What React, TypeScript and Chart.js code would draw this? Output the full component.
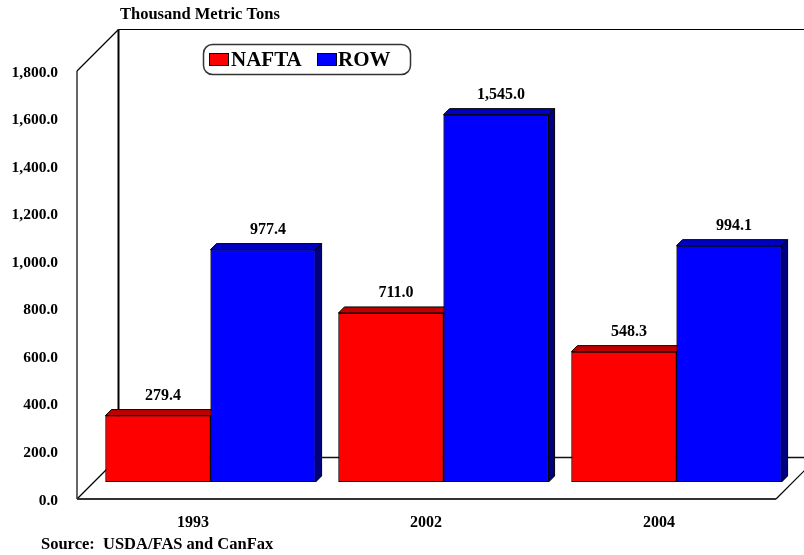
import React, { useEffect, useRef } from 'react';
import { Chart, registerables } from 'chart.js';

Chart.register(...registerables);

const categories = ['1993', '2002', '2004'];
const seriesNames = ['NAFTA', 'ROW'];
const naftaValues = [279.4, 711.0, 548.3];
const rowValues = [977.4, 1545.0, 994.1];
const yMin = 0;
const yMax = 1800;
const yStep = 200;
const unitTitle = 'Thousand Metric Tons';
const sourceNote = 'Source:  USDA/FAS and CanFax';

const frontColors = ['#FF0000', '#0000FF'];
const topColors = ['#C00000', '#0000C4'];
const sideColors = ['#800000', '#000080'];

const FONT = '"Liberation Serif", "Times New Roman", serif';
const FRONT = 17;
const BACK = 24.5;
const D = 6;

const fmt = (v: number) =>
  v.toLocaleString('en-US', { minimumFractionDigits: 1, maximumFractionDigits: 1 });

function line(ctx: CanvasRenderingContext2D, x1: number, y1: number, x2: number, y2: number, w: number, c: string) {
  ctx.beginPath();
  ctx.moveTo(x1, y1);
  ctx.lineTo(x2, y2);
  ctx.lineWidth = w;
  ctx.strokeStyle = c;
  ctx.stroke();
}

function poly(ctx: CanvasRenderingContext2D, pts: number[][], fill: string) {
  ctx.beginPath();
  ctx.moveTo(pts[0][0], pts[0][1]);
  for (let i = 1; i < pts.length; i++) ctx.lineTo(pts[i][0], pts[i][1]);
  ctx.closePath();
  ctx.fillStyle = fill;
  ctx.fill();
  ctx.lineWidth = 1;
  ctx.strokeStyle = '#000';
  ctx.stroke();
}

const threeD = {
  id: 'threeD',
  beforeDatasetsDraw(chart: any) {
    const { ctx, chartArea: a, scales } = chart;
    const y = scales.y;
    const y0 = y.getPixelForValue(yMin);
    const yT = y.getPixelForValue(yMax);
    const fl = a.left - FRONT, fr = a.right - FRONT, fb = y0 + FRONT, ft = yT + FRONT;
    const bl = a.left + BACK, br = a.right + BACK, bb = y0 - BACK, bt = yT - BACK;
    ctx.save();
    line(ctx, bl, bt, br, bt, 1.2, '#000');
    line(ctx, bl, bt, bl, bb, 2, '#000');
    line(ctx, bl, bb, br, bb, 1.5, '#111');
    line(ctx, fl, fb, fl, ft, 1.2, '#000');
    line(ctx, fl, ft, bl, bt, 1.2, '#000');
    line(ctx, fl, fb, bl, bb, 1.2, '#000');
    line(ctx, fr, fb, br, bb, 1.2, '#000');
    line(ctx, fl, fb, fr, fb, 2, '#333');
    ctx.restore();
  },
  afterDatasetsDraw(chart: any) {
    const { ctx } = chart;
    const metas = [chart.getDatasetMeta(0), chart.getDatasetMeta(1)];
    ctx.save();
    for (let i = 0; i < categories.length; i++) {
      metas.forEach((m: any, k: number) => {
        const el = m.data[i];
        const { x, y, base, width } = el.getProps(['x', 'y', 'base', 'width'], true);
        const x1 = x - width / 2;
        const x2 = x + width / 2;
        poly(ctx, [[x2, y], [x2 + D, y - D], [x2 + D, base - D], [x2, base]], sideColors[k]);
        poly(ctx, [[x1, y], [x1 + D, y - D], [x2 + D, y - D], [x2, y]], topColors[k]);
        el.draw(ctx);
      });
    }
    ctx.fillStyle = '#000';
    ctx.font = `bold 16px ${FONT}`;
    ctx.textAlign = 'center';
    ctx.textBaseline = 'middle';
    metas.forEach((m: any, k: number) => {
      const vals = chart.data.datasets[k].data;
      m.data.forEach((el: any, i: number) => {
        const { x, y } = el.getProps(['x', 'y'], true);
        ctx.fillText(fmt(vals[i]), x + 5, y - 20);
      });
    });
    ctx.restore();
  },
  afterDraw(chart: any) {
    const { ctx } = chart;
    ctx.save();
    ctx.fillStyle = '#000';
    ctx.textBaseline = 'middle';
    ctx.textAlign = 'left';
    ctx.font = `bold 16.5px ${FONT}`;
    ctx.fillText(unitTitle, 120, 15);
    ctx.font = `bold 16.5px ${FONT}`;
    ctx.fillText(sourceNote, 41, 545);

    const lx = 203.5, ly = 44.5, lw = 207, lh = 30, r = 9;
    ctx.beginPath();
    ctx.moveTo(lx + r, ly);
    ctx.lineTo(lx + lw - r, ly);
    ctx.arcTo(lx + lw, ly, lx + lw, ly + r, r);
    ctx.lineTo(lx + lw, ly + lh - r);
    ctx.arcTo(lx + lw, ly + lh, lx + lw - r, ly + lh, r);
    ctx.lineTo(lx + r, ly + lh);
    ctx.arcTo(lx, ly + lh, lx, ly + lh - r, r);
    ctx.lineTo(lx, ly + r);
    ctx.arcTo(lx, ly, lx + r, ly, r);
    ctx.closePath();
    ctx.fillStyle = '#fff';
    ctx.fill();
    ctx.lineWidth = 1.5;
    ctx.strokeStyle = '#333';
    ctx.stroke();

    const items = [
      { bx: 209.5, tx: 231 },
      { bx: 317.5, tx: 338 },
    ];
    ctx.font = `bold 21px ${FONT}`;
    items.forEach((it, k) => {
      ctx.fillStyle = chart.data.datasets[k].backgroundColor;
      ctx.fillRect(it.bx, 53.5, 19, 12);
      ctx.lineWidth = 1;
      ctx.strokeStyle = '#000';
      ctx.strokeRect(it.bx, 53.5, 19, 12);
      ctx.fillStyle = '#000';
      ctx.fillText(chart.data.datasets[k].label, it.tx, 60.5);
    });
    ctx.restore();
  },
};

export default function App() {
  const ref = useRef<HTMLCanvasElement | null>(null);
  useEffect(() => {
    if (!ref.current) return;
    const chart = new Chart(ref.current, {
      type: 'bar',
      data: {
        labels: categories,
        datasets: [
          {
            label: seriesNames[0],
            data: naftaValues,
            backgroundColor: frontColors[0],
            borderColor: '#000',
            borderWidth: 1,
            borderSkipped: false,
          },
          {
            label: seriesNames[1],
            data: rowValues,
            backgroundColor: frontColors[1],
            borderColor: '#000',
            borderWidth: 1,
            borderSkipped: false,
          },
        ],
      },
      options: {
        responsive: false,
        animation: false,
        events: [],
        layout: { padding: { top: 54, right: 11, bottom: 0, left: 0 } },
        datasets: { bar: { categoryPercentage: 0.902, barPercentage: 1 } },
        plugins: { legend: { display: false }, tooltip: { enabled: false }, title: { display: false } },
        scales: {
          x: {
            grid: { display: false, drawTicks: false },
            border: { display: false },
            ticks: {
              font: { family: FONT, size: 16, weight: 'bold' },
              color: '#000',
              padding: 31,
              labelOffset: -17.5,
              maxRotation: 0,
            },
            afterFit: (s: any) => {
              s.height = 73;
            },
          },
          y: {
            min: yMin,
            max: yMax,
            grid: { display: false, drawTicks: false },
            border: { display: false },
            ticks: {
              stepSize: yStep,
              font: { family: FONT, size: 15.5, weight: 'bold' },
              color: '#000',
              padding: 36,
              labelOffset: 18.5,
              callback: (v: any) => fmt(Number(v)),
            },
            afterFit: (s: any) => {
              s.width = 94;
            },
          },
        },
      },
      plugins: [threeD],
    });
    return () => chart.destroy();
  }, []);
  return (
    <div style={{ position: 'absolute', left: 0, top: 0, width: 804, height: 555, background: '#fff' }}>
      <canvas ref={ref} width={804} height={555} />
    </div>
  );
}
